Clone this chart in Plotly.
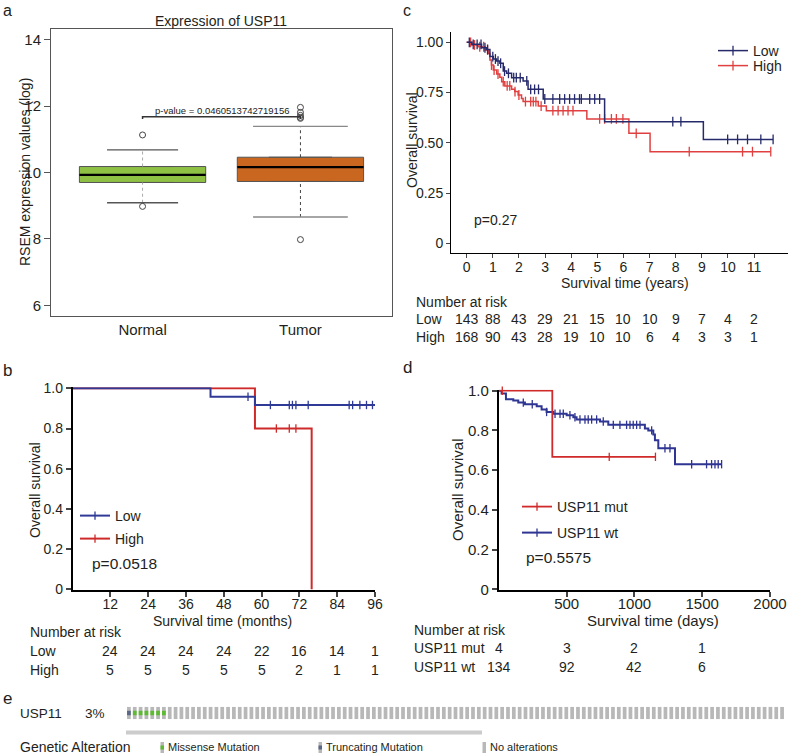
import numpy as np
import plotly.graph_objects as go

W, H = 790, 755
FONT = "Liberation Sans, Arial, Helvetica, sans-serif"
TXT = "#231f20"


def fx(p):
    return p / W


def fy(p):
    return 1 - p / H


# ---------------- panel a : boxplot ----------------
groups = ["Normal", "Tumor"]
group_x = [1, 2]
box_q1 = [9.70, 9.73]
box_median = [9.93, 10.16]
box_q3 = [10.18, 10.46]
whisker_low = [9.09, 8.66]
whisker_high = [10.68, 11.39]
outliers = [[11.13, 8.98], [11.96, 11.81, 11.72, 11.66, 11.63, 7.98]]
a_yticks = [6, 8, 10, 12, 14]
a_title = "Expression of USP11"
a_ytitle = "RSEM expression values (log)"
p_text_a = "p-value = 0.0460513742719156"
p_bracket_y = 11.68

# ---------------- panel b : KM (months) ----------------
b_low_time = [0, 43.8, 57.9, 96]
b_low_surv = [1.0, 0.958, 0.917, 0.917]
b_low_censor = [55.7, 62.8, 68.8, 69.8, 70.9, 74.8, 87.8, 88.9, 91.2, 93.3, 95.2]
b_high_time = [0, 57.9, 75.9]
b_high_surv = [1.0, 0.8, 0.0]
b_high_censor = [64.7, 68.8, 70.9]
b_xticks = [12, 24, 36, 48, 60, 72, 84, 96]
b_yticks = [0, 0.2, 0.4, 0.6, 0.8, 1.0]
b_yticktext = ["0", "0.2", "0.4", "0.6", "0.8", "1.0"]
b_risk_times = [12, 24, 36, 48, 60, 72, 84, 96]
b_risk_low = [24, 24, 24, 24, 22, 16, 14, 1]
b_risk_high = [5, 5, 5, 5, 5, 2, 1, 1]
b_pval = "p=0.0518"

# ---------------- panel c : KM (years) ----------------
c_low_time = [0, 0.2, 0.57, 0.76, 0.89, 1.02, 1.15, 1.27, 1.4, 1.53, 1.72, 2.16, 2.35, 2.93, 5.28, 9.06, 11.73]
c_low_surv = [1.0, 0.99, 0.973, 0.965, 0.929, 0.917, 0.907, 0.896, 0.857, 0.846, 0.824, 0.808, 0.766, 0.718, 0.605, 0.517, 0.517]
c_low_censor = [0.1, 0.25, 0.4, 0.55, 0.7, 0.8, 1.0, 1.1, 1.2, 1.3, 1.45, 1.6, 1.8, 1.9, 2.05, 2.3, 2.45, 2.6, 2.75,
                2.99, 3.3, 3.56, 3.75, 3.94, 4.13, 4.32, 4.39, 4.71, 4.9, 5.09, 7.89, 8.2, 9.99, 10.37, 10.75, 11.26, 11.73]
c_high_time = [0, 0.19, 0.44, 0.7, 0.83, 0.89, 0.95, 1.02, 1.15, 1.27, 1.34, 1.46, 1.72, 1.84, 1.97, 2.1, 2.16, 2.74,
               3.05, 4.6, 6.21, 7.02, 11.64]
c_high_surv = [1.0, 0.987, 0.978, 0.962, 0.945, 0.912, 0.887, 0.862, 0.842, 0.826, 0.804, 0.783, 0.766, 0.755, 0.738,
               0.721, 0.705, 0.683, 0.66, 0.619, 0.547, 0.456, 0.456]
c_high_censor = [0.15, 0.3, 0.5, 0.65, 0.8, 0.95, 1.05, 1.2, 1.4, 1.55, 1.65, 1.85, 2.0, 2.25, 2.45, 2.55, 2.65, 2.85,
                 3.3, 3.5, 3.69, 3.88, 4.07, 5.09, 5.28, 5.54, 5.73, 5.98, 6.49, 8.52, 10.56, 10.94, 11.64]
c_xticks = list(range(0, 12))
c_yticks = [0, 0.25, 0.5, 0.75, 1.0]
c_yticktext = ["0", "0.25", "0.50", "0.75", "1.00"]
c_risk_times = list(range(0, 12))
c_risk_low = [143, 88, 43, 29, 21, 15, 10, 10, 9, 7, 4, 2]
c_risk_high = [168, 90, 43, 28, 19, 10, 10, 6, 4, 3, 3, 1]
c_pval = "p=0.27"

# ---------------- panel d : KM (days) ----------------
d_mut_time = [0, 394, 1155]
d_mut_surv = [1.0, 0.667, 0.667]
d_mut_censor = [25, 814, 1155]
d_wt_time = [0, 20, 52, 106, 143, 192, 279, 315, 352, 401, 500, 549, 573, 746, 807, 1077, 1102, 1139, 1151, 1176,
             1299, 1643]
d_wt_surv = [1.0, 0.986, 0.957, 0.95, 0.94, 0.932, 0.922, 0.905, 0.893, 0.884, 0.876, 0.866, 0.855, 0.845, 0.828,
             0.81, 0.80, 0.78, 0.75, 0.71, 0.63, 0.63]
d_wt_censor = [180, 246, 352, 414, 451, 475, 524, 561, 598, 635, 659, 684, 721, 770, 844, 893, 942, 967, 991, 1016,
               1041, 1127, 1225, 1262, 1422, 1532, 1569, 1594, 1618, 1643]
d_xticks = [500, 1000, 1500, 2000]
d_yticks = [0, 0.2, 0.4, 0.6, 0.8, 1.0]
d_yticktext = ["0", "0.2", "0.4", "0.6", "0.8", "1.0"]
d_risk_times = [0, 500, 1000, 1500]
d_risk_mut = [4, 3, 2, 1]
d_risk_wt = [134, 92, 42, 6]
d_pval = "p=0.5575"

# ---------------- panel e : oncoprint ----------------
e_gene = "USP11"
e_pct = "3%"
e_n_samples = 113
e_altered_index = [0, 1, 2, 3, 4, 5, 6]
e_altered_type = ["Truncating", "Missense", "Missense", "Missense", "Missense", "Missense", "Missense"]
e_legend_labels = ["Missense Mutation", "Truncating Mutation", "No alterations"]

# colours
GREEN_BOX, ORANGE_BOX = "#8dc043", "#c9661f"
B_BLUE, B_RED = "#2f3a96", "#cf2a2a"
C_NAVY, C_RED = "#262a6b", "#e04040"
D_RED, D_BLUE = "#d02a2a", "#2f3592"
E_GREY, E_GREEN, E_TRUNC = "#b8b8b8", "#5dbb2f", "#5b6787"


def surv_at(times, surv, t):
    idx = np.searchsorted(np.asarray(times), np.asarray(t), side="right") - 1
    return np.asarray(surv)[idx]


fig = go.Figure()

# ---- panel a traces
box_colors = [GREEN_BOX, ORANGE_BOX]
cap_width = [0.45, 0.6]
whisk_color = ["#aaaaaa", "#444444"]
cap_color = ["#555555", "#888888"]
for i in range(2):
    gx = group_x[i]
    fig.add_trace(go.Box(x=[gx], q1=[box_q1[i]], median=[box_median[i]], q3=[box_q3[i]],
                         lowerfence=[box_q1[i]], upperfence=[box_q3[i]], width=0.8, orientation="v",
                         fillcolor=box_colors[i], line=dict(color="#555555", width=1),
                         boxpoints=False, xaxis="x", yaxis="y", showlegend=False, hoverinfo="skip"))
    fig.add_trace(go.Scatter(x=[gx, gx, None, gx, gx], y=[box_q3[i], whisker_high[i], None, whisker_low[i], box_q1[i]],
                             mode="lines", line=dict(color=whisk_color[i], width=1, dash="dot"),
                             xaxis="x", yaxis="y", showlegend=False, hoverinfo="skip"))
    cw = cap_width[i] / 2
    fig.add_trace(go.Scatter(x=[gx - cw, gx + cw, None, gx - cw, gx + cw],
                             y=[whisker_high[i], whisker_high[i], None, whisker_low[i], whisker_low[i]],
                             mode="lines", line=dict(color=cap_color[i], width=1.3),
                             xaxis="x", yaxis="y", showlegend=False, hoverinfo="skip"))
    fig.add_trace(go.Scatter(x=[gx - 0.4, gx + 0.4], y=[box_median[i], box_median[i]], mode="lines",
                             line=dict(color="black", width=2.2), xaxis="x", yaxis="y",
                             showlegend=False, hoverinfo="skip"))
    fig.add_trace(go.Scatter(x=[gx] * len(outliers[i]), y=outliers[i], mode="markers",
                             marker=dict(symbol="circle-open", size=6, color="#444444", line=dict(width=1)),
                             xaxis="x", yaxis="y", showlegend=False, hoverinfo="skip"))
fig.add_trace(go.Scatter(x=[group_x[0], group_x[0], group_x[1], group_x[1]],
                         y=[p_bracket_y - 0.07, p_bracket_y, p_bracket_y, p_bracket_y - 0.07],
                         mode="lines", line=dict(color="#333333", width=1.5), xaxis="x", yaxis="y",
                         showlegend=False, hoverinfo="skip"))


def km_traces(times, surv, cens, color, name, xa, ya, legend, lw, msize):
    fig.add_trace(go.Scatter(x=times, y=surv, mode="lines", line=dict(color=color, width=lw, shape="hv"),
                             xaxis=xa, yaxis=ya, showlegend=False, hoverinfo="skip"))
    fig.add_trace(go.Scatter(x=cens, y=surv_at(times, surv, cens), mode="markers",
                             marker=dict(symbol="line-ns", size=msize, line=dict(color=color, width=1.3)),
                             xaxis=xa, yaxis=ya, showlegend=False, hoverinfo="skip", cliponaxis=False))
    fig.add_trace(go.Scatter(x=[None], y=[None], mode="lines+markers", name=name,
                             line=dict(color=color, width=lw),
                             marker=dict(symbol="line-ns", size=msize, line=dict(color=color, width=1.3)),
                             xaxis=xa, yaxis=ya, showlegend=True, legend=legend))


km_traces(b_high_time, b_high_surv, b_high_censor, B_RED, "High", "x2", "y2", "legend2", 2, 6)
km_traces(b_low_time, b_low_surv, b_low_censor, B_BLUE, "Low", "x2", "y2", "legend", 2, 6)
km_traces(c_high_time, c_high_surv, c_high_censor, C_RED, "High", "x3", "y3", "legend4", 1.5, 7)
km_traces(c_low_time, c_low_surv, c_low_censor, C_NAVY, "Low", "x3", "y3", "legend3", 1.5, 7)
km_traces(d_wt_time, d_wt_surv, d_wt_censor, D_BLUE, "USP11 wt", "x4", "y4", "legend6", 2, 6)
km_traces(d_mut_time, d_mut_surv, d_mut_censor, D_RED, "USP11 mut", "x4", "y4", "legend5", 1.8, 6)

# ---- panel e bars
fig.add_trace(go.Bar(x=list(range(e_n_samples)), y=[1] * e_n_samples, width=0.64, marker=dict(color=E_GREY, line=dict(width=0)),
                     xaxis="x5", yaxis="y5", showlegend=False, hoverinfo="skip"))
alt_col = {"Truncating": E_TRUNC, "Missense": E_GREEN}
fig.add_trace(go.Bar(x=e_altered_index, y=[0.34] * len(e_altered_index), base=[0.33] * len(e_altered_index),
                     width=0.64, marker=dict(color=[alt_col[t] for t in e_altered_type], line=dict(width=0)),
                     xaxis="x5", yaxis="y5", showlegend=False, hoverinfo="skip"))

ann = []


def text(x, y, s, size=14, xanchor="left", yanchor="middle", angle=0, xref="paper", color=TXT):
    ann.append(dict(x=x, y=y, xref=xref, yref="paper", text=s, showarrow=False, xanchor=xanchor,
                    yanchor=yanchor, textangle=angle, font=dict(size=size, family=FONT, color=color)))


text(fx(1), fy(0), "a", 16, yanchor="top")
text(fx(1), fy(370), "b", 17)
text(fx(401), fy(0), "c", 16, yanchor="top")
text(fx(401), fy(368), "d", 17)
text(fx(1), fy(698), "e", 17)

text(fx(221), fy(21), a_title, 14, "center")
text(fx(25), fy(172), a_ytitle, 14, "center", angle=-90)
ann.append(dict(x=1.5, y=p_bracket_y, xref="x", yref="y", text=p_text_a, showarrow=False, xanchor="center",
                yanchor="bottom", yshift=-1, font=dict(size=9.5, family=FONT, color="#222222")))

text(fx(35), fy(490), "Overall survival", 14, "center", angle=-90)
text(fx(222), fy(621), "Survival time (months)", 14, "center")
text(fx(90), fy(563), b_pval, 15.5)
text(fx(28), fy(632), "Number at risk", 14)
text(fx(28), fy(651), "Low", 14)
text(fx(28), fy(670), "High", 14)
for t, lo, hi in zip(b_risk_times, b_risk_low, b_risk_high):
    text(t, fy(651), str(lo), 14, "center", xref="x2")
    text(t, fy(670), str(hi), 14, "center", xref="x2")

text(fx(412), fy(140), "Overall survival", 14, "center", angle=-90)
text(fx(625), fy(283), "Survival time (years)", 14, "center")
text(fx(472), fy(220), c_pval, 14)
text(fx(414), fy(302), "Number at risk", 14)
text(fx(414), fy(319), "Low", 14)
text(fx(414), fy(337), "High", 14)
for t, lo, hi in zip(c_risk_times, c_risk_low, c_risk_high):
    text(t, fy(319), str(lo), 14, "center", xref="x3")
    text(t, fy(337), str(hi), 14, "center", xref="x3")

text(fx(457), fy(490), "Overall survival", 15, "center", angle=-90)
text(fx(653), fy(620), "Survival time (days)", 15, "center")
text(fx(524), fy(557), d_pval, 15.5)
text(fx(412), fy(630), "Number at risk", 14)
text(fx(412), fy(648), "USP11 mut", 14)
text(fx(412), fy(667), "USP11 wt", 14)
for t, m, w in zip(d_risk_times, d_risk_mut, d_risk_wt):
    text(t, fy(648), str(m), 14, "center", xref="x4")
    text(t, fy(667), str(w), 14, "center", xref="x4")

text(fx(18), fy(713), e_gene, 13.5)
text(fx(83), fy(713), e_pct, 13.5)
text(fx(18), fy(747), "Genetic Alteration", 14)
leg_x_text = [166, 324, 488]
for lx, lab in zip(leg_x_text, e_legend_labels):
    text(fx(lx), fy(747), lab, 11)

shapes = []
shapes.append(dict(type="rect", xref="paper", yref="paper", x0=fx(126), x1=fx(482), y0=fy(734.5), y1=fy(730.5),
                   fillcolor="#cccccc", line=dict(width=0)))
sw_cols = [E_GREEN, E_TRUNC, None]
for lx, c in zip(leg_x_text, sw_cols):
    shapes.append(dict(type="rect", xref="paper", yref="paper", x0=fx(lx - 5.5), x1=fx(lx - 2), y0=fy(753),
                       y1=fy(742), fillcolor=E_GREY, line=dict(width=0)))
    if c:
        shapes.append(dict(type="rect", xref="paper", yref="paper", x0=fx(lx - 5.5), x1=fx(lx - 2),
                           y0=fy(749.5), y1=fy(745.5), fillcolor=c, line=dict(width=0)))

axis_common = dict(showgrid=False, zeroline=False, tickfont=dict(size=14, family=FONT, color=TXT))
tf15 = dict(size=15, family=FONT, color=TXT)


def legend_at(xp, yp, size=14):
    return dict(x=fx(xp), y=fy(yp), xanchor="left", yanchor="middle", bgcolor="rgba(0,0,0,0)",
                font=dict(size=size, family=FONT, color=TXT), itemwidth=30, borderwidth=0)


fig.update_layout(
    width=W, height=H, margin=dict(l=0, r=0, t=0, b=0, autoexpand=False),
    paper_bgcolor="white", plot_bgcolor="white", barmode="overlay",
    font=dict(family=FONT, color=TXT),
    xaxis=dict(domain=[fx(51), fx(392)], range=[0.42, 2.58], tickvals=group_x, ticktext=groups, ticks="",
               showline=True, mirror=True, linecolor="#555555", linewidth=1, anchor="y",
               showgrid=False, zeroline=False, tickfont=tf15),
    yaxis=dict(domain=[fy(316), fy(29)], range=[5.68, 14.32], tickvals=a_yticks, ticks="outside", ticklen=6,
               tickcolor="#555555", showline=True, mirror=True, linecolor="#555555", linewidth=1, anchor="x",
               showgrid=False, zeroline=False, tickfont=tf15),
    xaxis2=dict(domain=[fx(72.5), fx(375)], range=[0, 96], tickvals=b_xticks, ticks="outside", ticklen=5,
                tickwidth=1.5, showline=True, linecolor="black", linewidth=1.5, anchor="y2",
                ticklabelstandoff=-5, **axis_common),
    yaxis2=dict(domain=[fy(590.3), fy(387.3)], range=[-0.005, 1.005], tickvals=b_yticks, ticktext=b_yticktext,
                ticks="outside", ticklen=5, tickwidth=1.5, showline=True, linecolor="black", linewidth=1.5,
                anchor="x2", **axis_common),
    xaxis3=dict(domain=[fx(451), fx(788)], range=[-0.6, 12.3], tickvals=c_xticks, ticks="outside", ticklen=4,
                showline=True, linecolor="black", linewidth=1, anchor="y3", ticklabelstandoff=-3, **axis_common),
    yaxis3=dict(domain=[fy(253.3), fy(32.3)], range=[-0.05, 1.05], tickvals=c_yticks, ticktext=c_yticktext,
                ticks="outside", ticklen=4, showline=True, linecolor="black", linewidth=1, anchor="x3",
                **axis_common),
    xaxis4=dict(domain=[fx(498.9), fx(770)], range=[0, 2000], tickvals=d_xticks, ticks="outside", ticklen=5,
                tickwidth=2, showline=True, linecolor="black", linewidth=2, anchor="y4", ticklabelstandoff=-6,
                showgrid=False, zeroline=False, tickfont=tf15),
    yaxis4=dict(domain=[fy(590.3), fy(389.7)], range=[-0.005, 1.005], tickvals=d_yticks, ticktext=d_yticktext,
                ticks="outside", ticklen=5, tickwidth=2, showline=True, linecolor="black", linewidth=2,
                anchor="x4", showgrid=False, zeroline=False, tickfont=tf15),
    xaxis5=dict(domain=[fx(126), fx(785)], range=[-0.5, e_n_samples - 0.5], visible=False, anchor="y5"),
    yaxis5=dict(domain=[fy(719.3), fy(706.7)], range=[0, 1], visible=False, anchor="x5"),
    legend=legend_at(75, 516),
    legend2=legend_at(75, 539),
    legend3=legend_at(713, 51),
    legend4=legend_at(713, 66),
    legend5=legend_at(517, 507),
    legend6=legend_at(517, 533),
    annotations=ann,
    shapes=shapes,
)

fig.write_html(
    "out.html",
    config={"displayModeBar": False, "responsive": False},
    post_script="document.documentElement.style.margin='0px';document.documentElement.style.padding='0px';"
                "document.body.style.margin='0px';document.body.style.padding='0px';"
                "document.body.style.overflow='hidden';",
)
